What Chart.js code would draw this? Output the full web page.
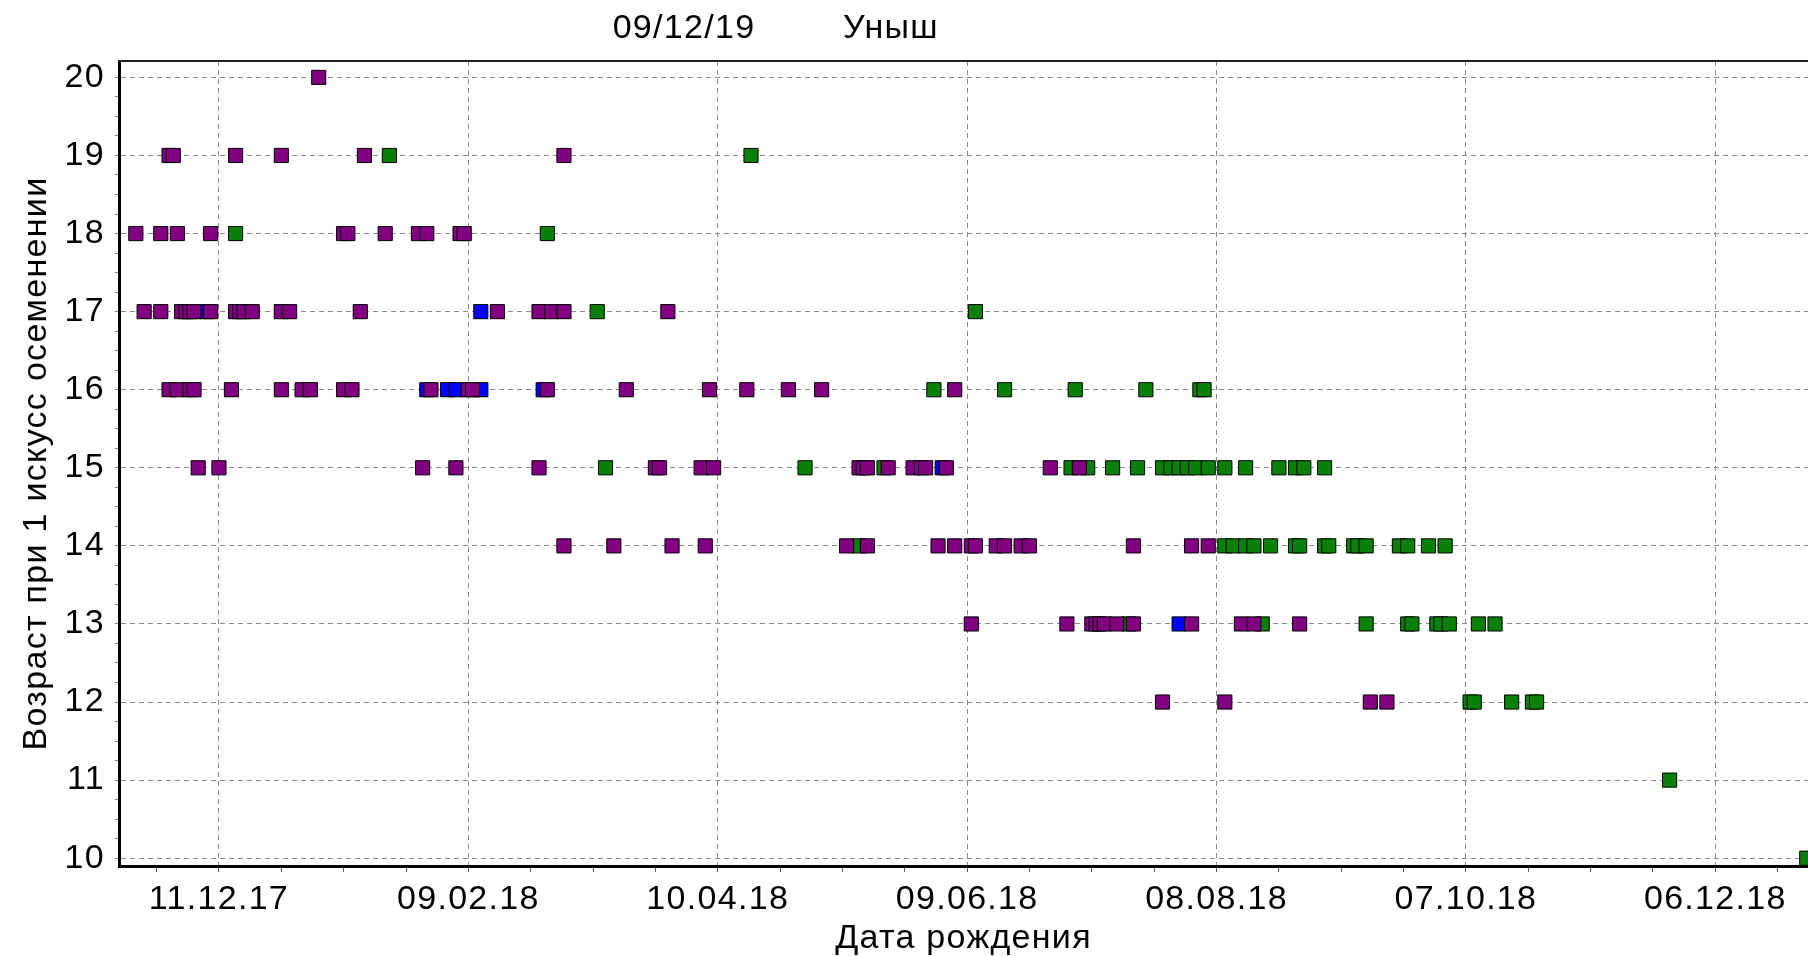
<!DOCTYPE html>
<html><head><meta charset="utf-8">
<script src="https://cdn.jsdelivr.net/npm/chart.js@4.4.0/dist/chart.umd.min.js"></script>
<style>html,body{margin:0;padding:0;background:#fff;overflow:hidden}#wrap{width:1808px;height:956px}</style>
</head><body><div id="wrap"><canvas id="c" width="1808" height="956"></canvas></div>
<script>
// ---- texts ----
const chartDate = '09/12/19';
const farmName = 'Уныш';
const xTitle = 'Дата рождения';
const yTitle = 'Возраст при 1 искусс осеменении';

// ---- axis ticks ----
const xTickLabels = ['11.12.17','09.02.18','10.04.18','09.06.18','08.08.18','07.10.18','06.12.18'];
const xRangeStart = '17.11.17';
const xRangeEnd = '28.12.18';
const yTickLabels = [10,11,12,13,14,15,16,17,18,19,20];

// ---- series: purple ----
const purpleDates = [
 '04.01.18',
 '29.11.17','30.11.17','15.12.17','26.12.17','15.01.18','04.03.18',
 '21.11.17','27.11.17','01.12.17','09.12.17','10.01.18','11.01.18','20.01.18','28.01.18','30.01.18','07.02.18','08.02.18',
 '23.11.17','27.11.17','02.12.17','03.12.17','04.12.17','05.12.17','09.12.17','15.12.17','16.12.17','17.12.17','19.12.17','26.12.17','28.12.17','14.01.18','16.02.18','26.02.18','01.03.18','04.03.18','29.03.18',
 '29.11.17','01.12.17','04.12.17','05.12.17','14.12.17','26.12.17','31.12.17','02.01.18','10.01.18','12.01.18','31.01.18','09.02.18','10.02.18','28.02.18','19.03.18','08.04.18','17.04.18','27.04.18','05.05.18','06.06.18',
 '06.12.17','11.12.17','29.01.18','06.02.18','26.02.18','26.03.18','27.03.18','06.04.18','09.04.18','14.05.18','15.05.18','16.05.18','21.05.18','27.05.18','29.05.18','30.05.18','04.06.18','29.06.18','06.07.18',
 '04.03.18','16.03.18','30.03.18','07.04.18','11.05.18','16.05.18','02.06.18','06.06.18','10.06.18','11.06.18','16.06.18','18.06.18','22.06.18','24.06.18','19.07.18','02.08.18','06.08.18',
 '10.06.18','03.07.18','09.07.18','10.07.18','11.07.18','12.07.18','15.07.18','19.07.18','02.08.18','14.08.18','17.08.18','28.08.18',
 '26.07.18','10.08.18','14.09.18','18.09.18'
];
const purpleAges = [
 20,
 19,19,19,19,19,19,
 18,18,18,18,18,18,18,18,18,18,18,
 17,17,17,17,17,17,17,17,17,17,17,17,17,17,17,17,17,17,17,
 16,16,16,16,16,16,16,16,16,16,16,16,16,16,16,16,16,16,16,16,
 15,15,15,15,15,15,15,15,15,15,15,15,15,15,15,15,15,15,15,
 14,14,14,14,14,14,14,14,14,14,14,14,14,14,14,14,14,
 13,13,13,13,13,13,13,13,13,13,13,13,
 12,12,12,12
];

// ---- series: blue ----
const blueDates = ['08.12.17','12.02.18','30.01.18','04.02.18','06.02.18','12.02.18','27.02.18','03.06.18','30.07.18'];
const blueAges  = [17,17,16,16,16,16,16,15,13];

// ---- series: green ----
const greenDates = [
 '21.01.18','18.04.18',
 '15.12.17','28.02.18',
 '12.03.18','11.06.18',
 '01.06.18','18.06.18','05.07.18','22.07.18','04.08.18','05.08.18',
 '14.03.18','01.05.18','20.05.18','04.07.18','08.07.18','14.07.18','20.07.18','26.07.18','28.07.18','30.07.18','01.08.18','03.08.18','06.08.18','10.08.18','15.08.18','23.08.18','27.08.18','29.08.18','03.09.18',
 '14.05.18','10.08.18','12.08.18','15.08.18','17.08.18','21.08.18','27.08.18','28.08.18','03.09.18','04.09.18','10.09.18','11.09.18','13.09.18','21.09.18','23.09.18','28.09.18','02.10.18',
 '18.07.18','19.08.18','13.09.18','23.09.18','24.09.18','30.09.18','01.10.18','03.10.18','10.10.18','14.10.18',
 '08.10.18','09.10.18','18.10.18','23.10.18','24.10.18',
 '25.11.18',
 '28.12.18'
];
const greenAges = [
 19,19,
 18,18,
 17,17,
 16,16,16,16,16,16,
 15,15,15,15,15,15,15,15,15,15,15,15,15,15,15,15,15,15,15,
 14,14,14,14,14,14,14,14,14,14,14,14,14,14,14,14,14,
 13,13,13,13,13,13,13,13,13,13,
 12,12,12,12,12,
 11,
 10
];

// ---- helpers ----
const BASE = Date.UTC(2017, 11, 11);
function dayOf(s) {
  const [d, m, y] = s.split('.').map(Number);
  return Math.round((Date.UTC(2000 + y, m - 1, d) - BASE) / 86400000);
}
function pts(dates, ages) { return dates.map((d, i) => ({x: dayOf(d), y: ages[i]})); }

const majorDays = xTickLabels.map(dayOf);
const labelByDay = {};
xTickLabels.forEach((l, i) => labelByDay[majorDays[i]] = l);
const xMin = dayOf(xRangeStart) - 0.05;
const xMax = dayOf(xRangeEnd) + 0.3;
const xAllTicks = [];
for (let v = majorDays[0] - 15; v <= xMax; v += 15) xAllTicks.push(v);
const yMin = 9.9, yMax = 20.21;
const yAllTicks = [];
for (let v = yTickLabels[0]; v <= yTickLabels[yTickLabels.length - 1] + 0.001; v += 0.25) yAllTicks.push(Math.round(v * 100) / 100);

const FONT = '"Liberation Sans", Arial, sans-serif';
const GRID = '#8a8a8a';
const CLEAR = 'rgba(0,0,0,0)';
const SPACING = '1.3px';

const frame = {
  id: 'frame',
  beforeUpdate(chart) { try { chart.ctx.letterSpacing = SPACING; } catch (e) {} },
  beforeDraw(chart) { try { chart.ctx.letterSpacing = SPACING; } catch (e) {} },
  afterDraw(chart) {
    const {ctx, chartArea: a} = chart;
    ctx.save();
    ctx.strokeStyle = '#222';
    ctx.lineWidth = 2;
    ctx.beginPath(); ctx.moveTo(a.left - 1, a.top); ctx.lineTo(a.right, a.top); ctx.stroke();
    ctx.fillStyle = '#000';
    ctx.font = '34px ' + FONT;
    ctx.textAlign = 'center'; ctx.textBaseline = 'middle';
    ctx.fillText(chartDate, 684, 29);
    ctx.fillText(farmName, 891, 29);
    ctx.restore();
  }
};

const common = {type: 'scatter', pointStyle: 'rect', pointRadius: 10, pointHoverRadius: 10, borderColor: '#000', borderWidth: 1, showLine: false};

new Chart(document.getElementById('c'), {
  type: 'scatter',
  data: {
    datasets: [
      Object.assign({label: 'purple', data: pts(purpleDates, purpleAges), backgroundColor: '#800080'}, common),
      Object.assign({label: 'blue', data: pts(blueDates, blueAges), backgroundColor: '#0000ff'}, common),
      Object.assign({label: 'green', data: pts(greenDates, greenAges), backgroundColor: '#0a800a'}, common)
    ]
  },
  options: {
    responsive: false,
    animation: false,
    devicePixelRatio: 1,
    layout: {autoPadding: false, padding: {top: 61, right: 0, bottom: 0, left: 0}},
    plugins: {legend: {display: false}, tooltip: {enabled: false}, title: {display: false}},
    scales: {
      x: {
        type: 'linear', min: xMin, max: xMax,
        afterBuildTicks: ax => { ax.ticks = xAllTicks.map(v => ({value: v})); },
        afterFit: ax => { ax.height = 90; },
        ticks: {autoSkip: false, maxRotation: 0, minRotation: 0, padding: 7, color: '#000',
          font: {family: FONT, size: 34},
          callback: v => labelByDay[v] !== undefined ? labelByDay[v] : ''},
        grid: {color: c => labelByDay[c.tick.value] !== undefined ? GRID : CLEAR, lineWidth: 1,
          tickLength: 6, tickColor: '#555', tickWidth: 1},
        border: {display: true, color: '#000', width: 3, dash: [5, 4]},
        title: {display: true, text: xTitle, color: '#000', font: {family: FONT, size: 34, lineHeight: 1.0}, padding: {top: 0, bottom: 0}}
      },
      y: {
        type: 'linear', min: yMin, max: yMax,
        afterBuildTicks: ax => { ax.ticks = yAllTicks.map(v => ({value: v})); },
        afterFit: ax => { ax.width = 119; },
        ticks: {autoSkip: false, padding: 10, color: '#000', font: {family: FONT, size: 34},
          callback: v => Number.isInteger(v) ? String(v) : ''},
        grid: {color: c => Number.isInteger(c.tick.value) ? GRID : CLEAR, lineWidth: 1,
          tickLength: 4, tickColor: '#777', tickWidth: 1},
        border: {display: true, color: '#000', width: 3, dash: [5, 4]},
        title: {display: true, text: yTitle, color: '#000', font: {family: FONT, size: 34}, padding: {top: 16, bottom: 0}}
      }
    }
  },
  plugins: [frame]
});
</script></body></html>
